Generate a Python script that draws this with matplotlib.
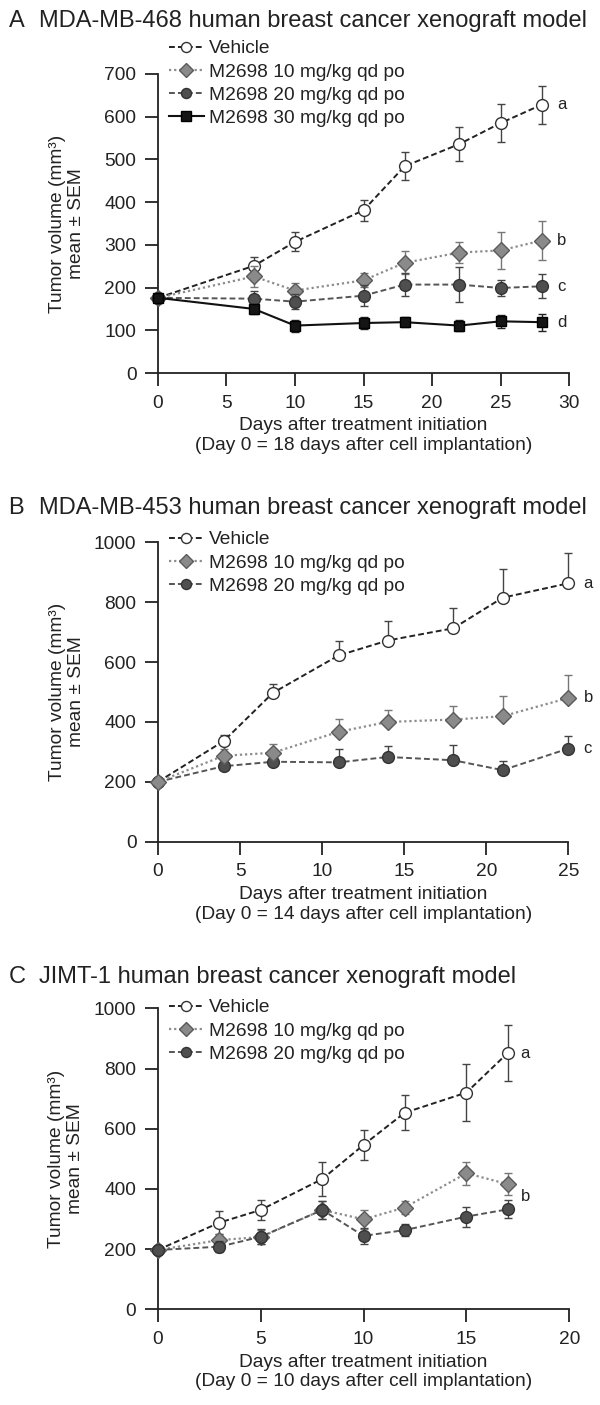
import numpy as np
import matplotlib
matplotlib.use('Agg')
import matplotlib.pyplot as plt

plt.rcParams['font.family'] = ['Liberation Sans', 'DejaVu Sans']

# ---- panel A: MDA-MB-468 ----
days_a = [0, 7, 10, 15, 18, 22, 25, 28]
veh_a = [176, 251, 307, 381, 484, 536, 585, 628]
veh_a_err = [0, 20, 22, 24, 33, 40, 44, 45]
m10_a = [176, 226, 193, 217, 258, 282, 287, 310]
m10_a_err = [0, 24, 17, 16, 27, 25, 43, 46]
m20_a = [176, 174, 167, 181, 207, 207, 199, 203]
m20_a_err = [0, 17, 18, 25, 27, 40, 18, 28]
m30_a = [176, 150, 111, 117, 119, 111, 121, 119]
m30_a_err = [0, 12, 14, 13, 12, 13, 15, 20]

# ---- panel B: MDA-MB-453 (upper SEM only) ----
days_b = [0, 4, 7, 11, 14, 18, 21, 25]
veh_b = [200, 336, 497, 622, 672, 713, 815, 863]
veh_b_err = [0, 20, 31, 48, 65, 69, 96, 102]
m10_b = [200, 287, 297, 367, 400, 408, 419, 480]
m10_b_err = [0, 22, 29, 42, 41, 45, 67, 76]
m20_b = [200, 252, 267, 265, 283, 272, 239, 311]
m20_b_err = [0, 12, 10, 44, 37, 50, 31, 42]

# ---- panel C: JIMT-1 ----
days_c = [0, 3, 5, 8, 10, 12, 15, 17]
veh_c = [197, 288, 330, 433, 546, 653, 720, 851]
veh_c_err = [0, 37, 33, 55, 50, 58, 95, 94]
m10_c = [197, 230, 240, 330, 299, 338, 452, 416]
m10_c_err = [0, 20, 22, 30, 31, 22, 38, 36]
m20_c = [197, 208, 241, 330, 244, 263, 308, 332]
m20_c_err = [0, 18, 25, 30, 27, 20, 33, 30]

labels = ['Vehicle', 'M2698 10 mg/kg qd po', 'M2698 20 mg/kg qd po', 'M2698 30 mg/kg qd po']
titles = ['MDA-MB-468 human breast cancer xenograft model',
          'MDA-MB-453 human breast cancer xenograft model',
          'JIMT-1 human breast cancer xenograft model']
implant_days = [18, 14, 10]

styles = [
    dict(marker='o', ms=8.5, mfc='white', mec='#333333', color='#222222', dashes=(3, 1.6), lw=1.4, ecol='#444444'),
    dict(marker='D', ms=7.8, mfc='#8a8a8a', mec='#5a5a5a', color='#8c8c8c', dashes=(1, 1.3), lw=1.6, ecol='#777777'),
    dict(marker='o', ms=8.5, mfc='#4f4f4f', mec='#333333', color='#555555', dashes=(3, 1.6), lw=1.4, ecol='#444444'),
    dict(marker='s', ms=7.8, mfc='#151515', mec='#000000', color='#111111', dashes=None, lw=1.5, ecol='#222222'),
]

W, H = 600, 1405
fig = plt.figure(figsize=(W / 100, H / 100), dpi=100)


def add_ax(left, top, right, bottom):
    return fig.add_axes([left / W, 1 - bottom / H, (right - left) / W, (bottom - top) / H])


def draw_series(ax, x, y, err, st, lab, z, upper_only=False):
    err = np.array(err)
    yerr = [np.zeros_like(err), err] if upper_only else err
    ax.errorbar(x, y, yerr=yerr, fmt='none', ecolor=st['ecol'], elinewidth=1.0,
                capsize=3, capthick=1.0, zorder=z, clip_on=False)
    kw = dict(marker=st['marker'], ms=st['ms'], mfc=st['mfc'], mec=st['mec'], mew=1.0,
              color=st['color'], lw=st['lw'], label=lab, zorder=z + 0.5, clip_on=False)
    if st['dashes'] is None:
        ax.plot(x, y, ls='-', **kw)
    else:
        ax.plot(x, y, ls='--', dashes=st['dashes'], **kw)


def style_ax(ax, xmax, ymax, ystep, implant, legend_top):
    ax.set_xlim(0, xmax)
    ax.set_ylim(0, ymax)
    ax.set_xticks(np.arange(0, xmax + 1, 5))
    ax.set_yticks(np.arange(0, ymax + 1, ystep))
    for s in ['top', 'right']:
        ax.spines[s].set_visible(False)
    for s in ['left', 'bottom']:
        ax.spines[s].set_linewidth(1.3)
        ax.spines[s].set_color('#222222')
    ax.tick_params(direction='out', length=9.5, width=1.3, labelsize=13.8, pad=6,
                   color='#222222', labelcolor='#222222')
    ax.set_ylabel('Tumor volume (mm³)\nmean ± SEM', fontsize=13.8, linespacing=1.15, color='#222222')
    ax.yaxis.set_label_coords(-0.178, 0.5)
    ax.set_xlabel('Days after treatment initiation\n(Day 0 = %d days after cell implantation)' % implant,
                  fontsize=13.8, linespacing=1.2, color='#222222')
    ax.xaxis.set_label_coords(0.5, -0.148)
    ax.legend(loc='upper left', bbox_to_anchor=(169 / W, 1 - legend_top / H),
              bbox_transform=fig.transFigure, frameon=False, borderpad=0, borderaxespad=0,
              handlelength=1.8, handletextpad=0.3, labelspacing=0.3, fontsize=13.8,
              markerscale=0.85, labelcolor='#222222')


# panel A
ax_a = add_ax(158, 74, 569, 373)
draw_series(ax_a, days_a, veh_a, veh_a_err, styles[0], labels[0], 3)
draw_series(ax_a, days_a, m10_a, m10_a_err, styles[1], labels[1], 4)
draw_series(ax_a, days_a, m20_a, m20_a_err, styles[2], labels[2], 5)
draw_series(ax_a, days_a, m30_a, m30_a_err, styles[3], labels[3], 6)
style_ax(ax_a, 30, 700, 100, implant_days[0], 40)
for yv, t in zip([veh_a[-1], m10_a[-1], m20_a[-1], m30_a[-1]], 'abcd'):
    ax_a.annotate(t, (days_a[-1], yv), xytext=(11, 0), textcoords='offset points',
                  ha='left', va='center', fontsize=12, color='#222222')

# panel B
ax_b = add_ax(158, 542.3, 568.3, 841.7)
draw_series(ax_b, days_b, veh_b, veh_b_err, styles[0], labels[0], 3, upper_only=True)
draw_series(ax_b, days_b, m10_b, m10_b_err, styles[1], labels[1], 5, upper_only=True)
draw_series(ax_b, days_b, m20_b, m20_b_err, styles[2], labels[2], 4, upper_only=True)
style_ax(ax_b, 25, 1000, 200, implant_days[1], 531)
for yv, t in zip([veh_b[-1], m10_b[-1], m20_b[-1]], 'abc'):
    ax_b.annotate(t, (days_b[-1], yv), xytext=(11, 0), textcoords='offset points',
                  ha='left', va='center', fontsize=12, color='#222222')

# panel C
ax_c = add_ax(157.7, 1008.3, 569.3, 1309.3)
draw_series(ax_c, days_c, veh_c, veh_c_err, styles[0], labels[0], 3)
draw_series(ax_c, days_c, m10_c, m10_c_err, styles[1], labels[1], 4)
draw_series(ax_c, days_c, m20_c, m20_c_err, styles[2], labels[2], 5)
style_ax(ax_c, 20, 1000, 200, implant_days[2], 999)
ax_c.annotate('a', (days_c[-1], veh_c[-1]), xytext=(9, 0), textcoords='offset points',
              ha='left', va='center', fontsize=12, color='#222222')
ax_c.text(17.64, 375, 'b', ha='left', va='center', fontsize=12, color='#222222')

# panel titles
for ypx, letter, title in zip([20.7, 508.3, 976.7], 'ABC', titles):
    fig.text(8.5 / W, 1 - ypx / H, letter, fontsize=17, va='center', ha='left', color='#222222')
    fig.text(38.7 / W, 1 - ypx / H, title, fontsize=17, va='center', ha='left', color='#222222')

fig.savefig('out.png', dpi=100)
